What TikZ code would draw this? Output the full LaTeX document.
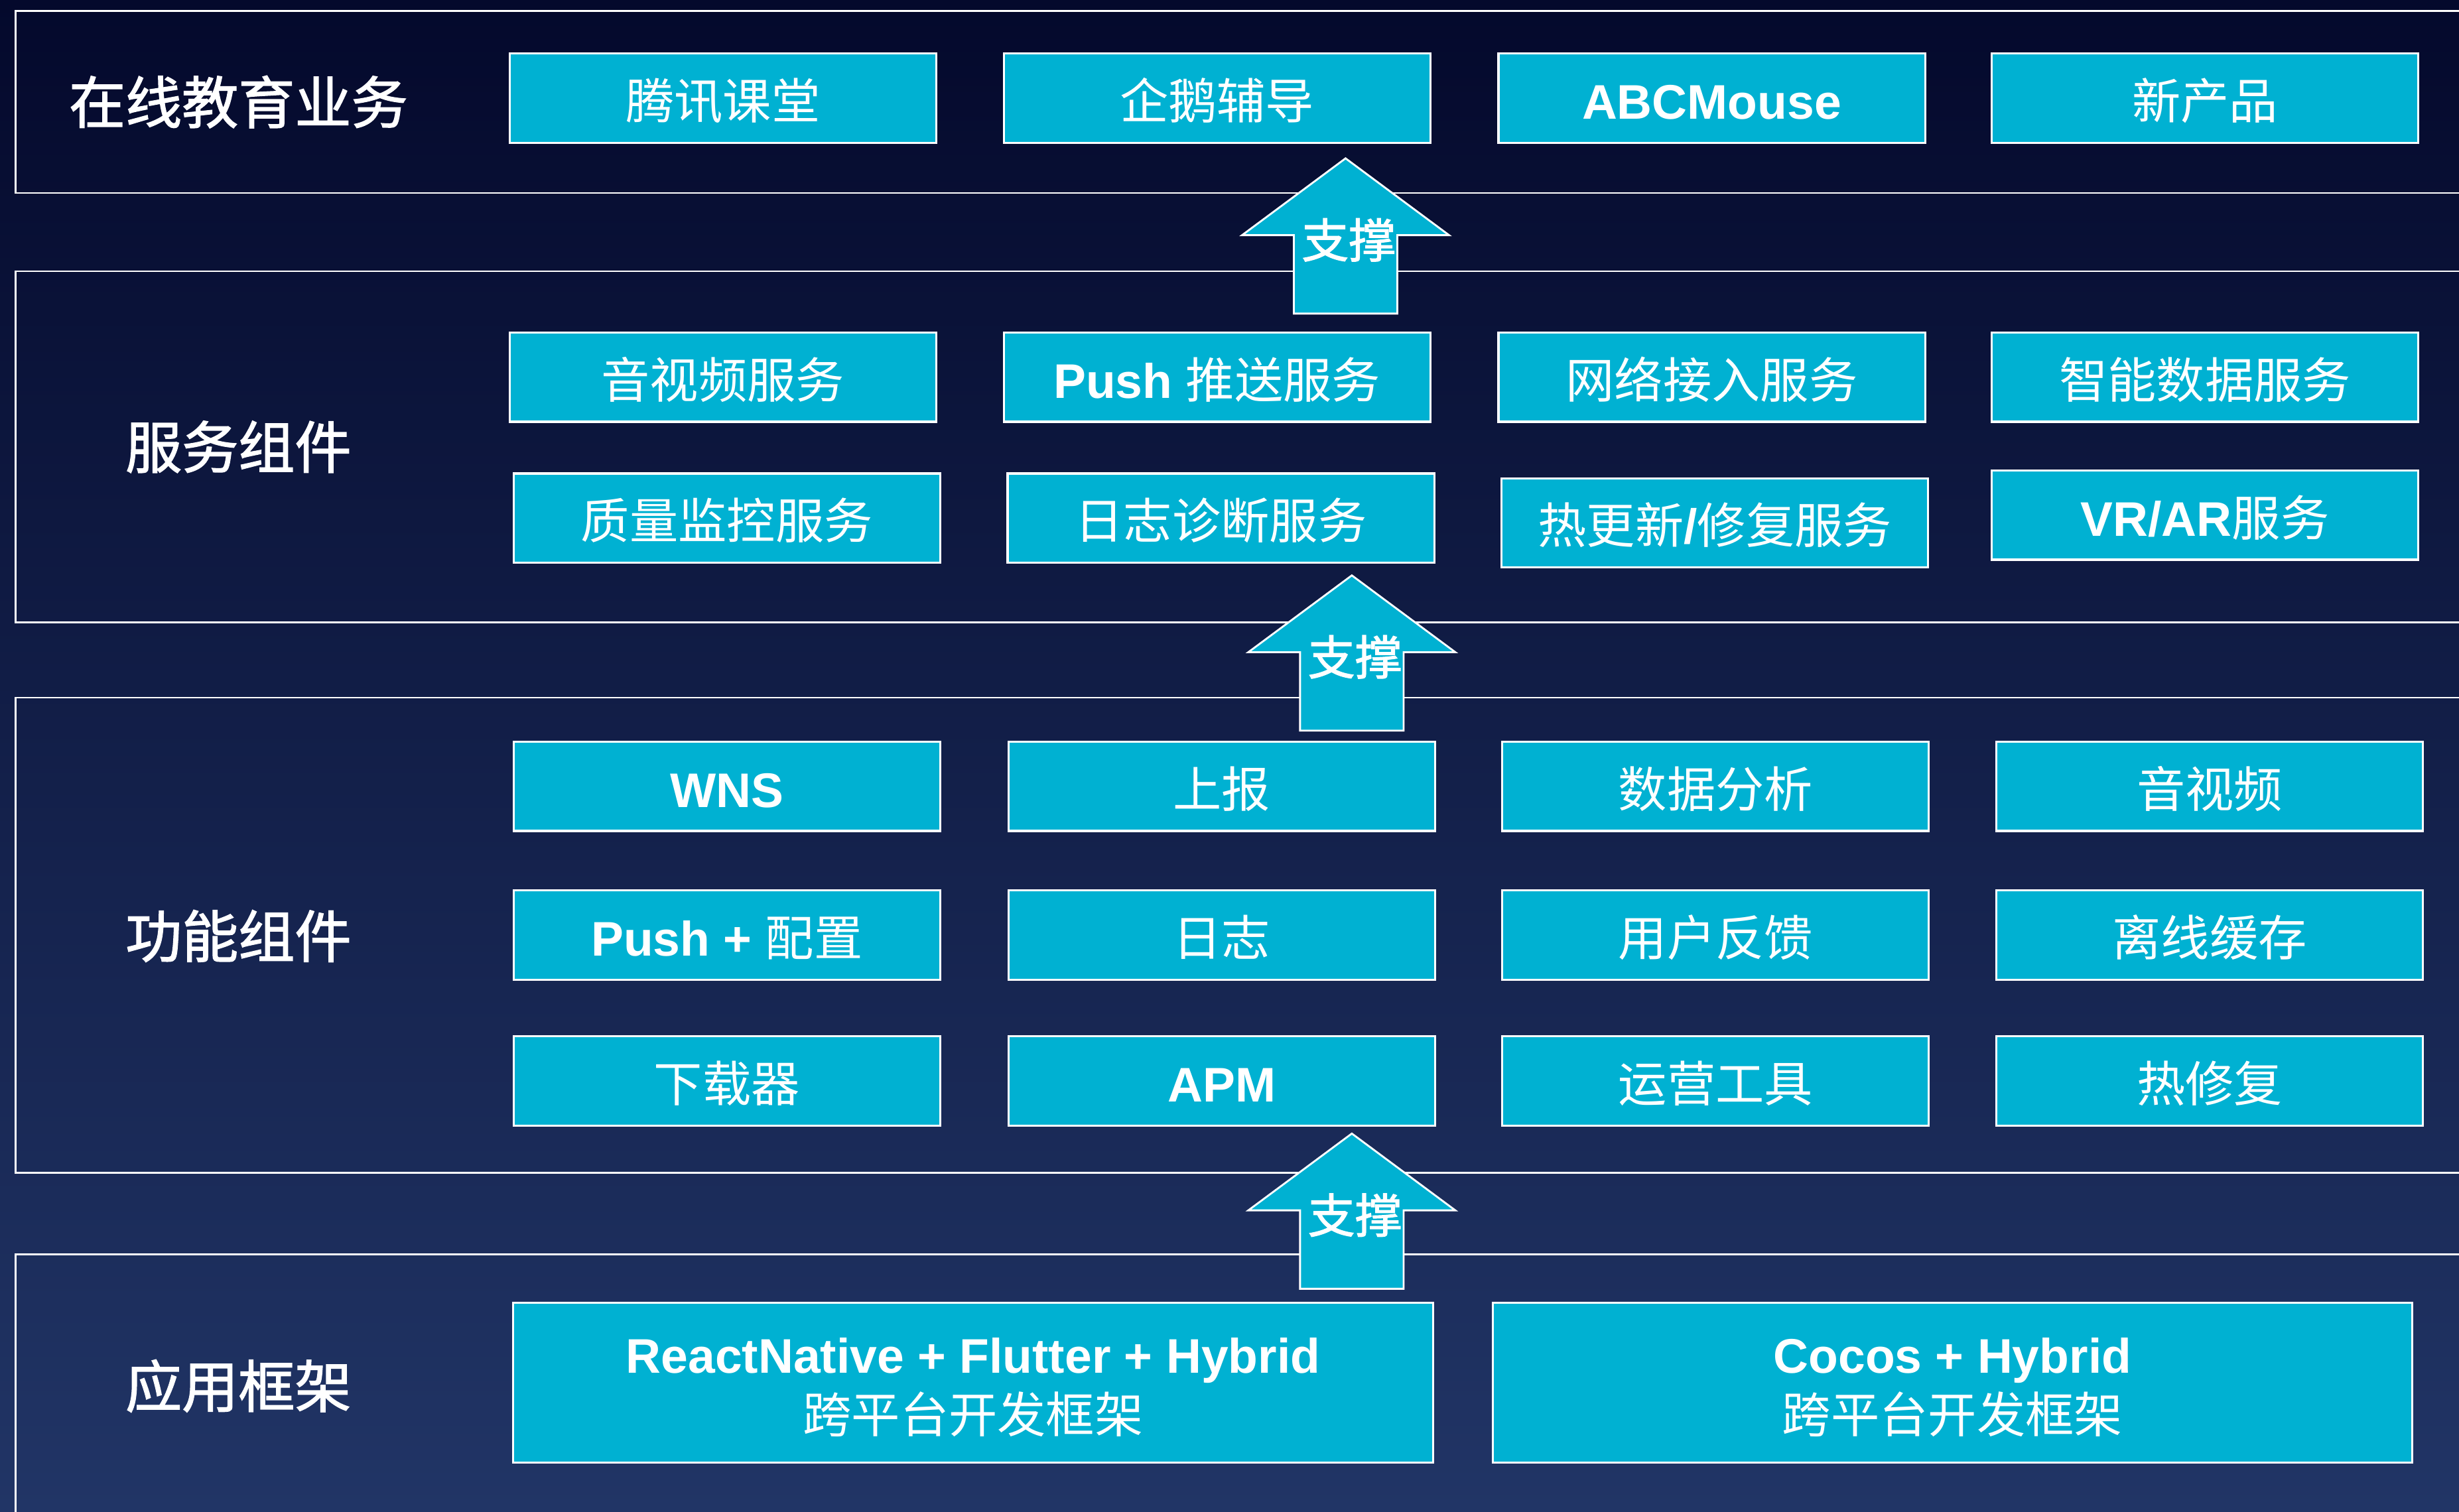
\documentclass[tikz,border=0pt]{standalone}
\usepackage{fontspec}
\setmainfont{Liberation Sans}
\newfontfamily\cjk{Noto Sans CJK SC}
\newfontfamily\cjkm{Noto Sans CJK SC}[FakeBold=1.6]
\newcommand{\la}[1]{{\bfseries #1}}
\newcommand{\zh}[1]{{\cjk #1}}
\definecolor{boxc}{RGB}{0,177,210}
\definecolor{bgtop}{RGB}{4,9,44}
\definecolor{bgbot}{RGB}{33,53,102}
\begin{document}
\begin{tikzpicture}[x=1pt,y=-1pt,
 blk/.style={draw=white,line width=1.3pt,fill=boxc,text=white,inner sep=0pt,
   minimum width=272pt,minimum height=57pt,text height=28.6pt,text depth=2pt,
   font=\fontsize{31}{36}\selectfont},
 wide/.style={draw=white,line width=1.3pt,fill=boxc,inner sep=0pt,minimum height=102pt},
 wtxt/.style={text=white,inner sep=0pt,align=center,font=\fontsize{31}{38}\selectfont},
 lay/.style={draw=white,line width=1pt},
 lbl/.style={text=white,inner sep=0pt,font=\fontsize{36}{40}\selectfont\cjkm},
 arr/.style={draw=white,line width=1.2pt,fill=boxc},
 arrtxt/.style={text=white,inner sep=0pt,font=\fontsize{30}{32}\selectfont\cjkm}]
\useasboundingbox (0,0) rectangle (1568,964);
\clip (0,0) rectangle (1568,964);
\shade[top color=bgtop,bottom color=bgbot] (0,0) rectangle (1568,964);

% layer frames (open on the right)
\draw[lay] (1600,7) -- (10,7) -- (10,123) -- (1600,123);
\draw[lay] (1600,173) -- (10,173) -- (10,397) -- (1600,397);
\draw[lay] (1600,445) -- (10,445) -- (10,748) -- (1600,748);
\draw[lay] (1600,800) -- (10,800) -- (10,1000);

% layer labels
\node[lbl] (l1) at (152,65) {在线教育业务};
\node[lbl] (l2) at (152,285) {服务组件};
\node[lbl] (l3) at (152,597) {功能组件};
\node[lbl] (l4) at (152,884) {应用框架};

% row 1
\node[blk] (a1) at (461,62.5) {\zh{腾讯课堂}};
\node[blk] (a2) at (776,62.5) {\zh{企鹅辅导}};
\node[blk] (a3) at (1091.5,62.5) {\la{ABCMouse}};
\node[blk] (a4) at (1406,62.5) {\zh{新产品}};

% service components
\node[blk] (b1) at (461,240.5) {\zh{音视频服务}};
\node[blk] (b2) at (776,240.5) {\la{Push} \zh{推送服务}};
\node[blk] (b3) at (1091.5,240.5) {\zh{网络接入服务}};
\node[blk] (b4) at (1406,240.5) {\zh{智能数据服务}};
\node[blk] (c1) at (463.5,330.5) {\zh{质量监控服务}};
\node[blk] (c2) at (778.5,330.5) {\zh{日志诊断服务}};
\node[blk] (c3) at (1093.5,333.5) {\zh{热更新}\la{/}\zh{修复服务}};
\node[blk] (c4) at (1406,328.5) {\la{VR/AR}\zh{服务}};

% function components
\node[blk] (d1) at (463.5,501.5) {\la{WNS}};
\node[blk] (d2) at (779,501.5) {\zh{上报}};
\node[blk] (d3) at (1094,501.5) {\zh{数据分析}};
\node[blk] (d4) at (1409,501.5) {\zh{音视频}};
\node[blk] (e1) at (463.5,596.5) {\la{Push +} \zh{配置}};
\node[blk] (e2) at (779,596.5) {\zh{日志}};
\node[blk] (e3) at (1094,596.5) {\zh{用户反馈}};
\node[blk] (e4) at (1409,596.5) {\zh{离线缓存}};
\node[blk] (f1) at (463.5,689.5) {\zh{下载器}};
\node[blk] (f2) at (779,689.5) {\la{APM}};
\node[blk] (f3) at (1094,689.5) {\zh{运营工具}};
\node[blk] (f4) at (1409,689.5) {\zh{热修复}};

% frameworks
\node[wide,minimum width=587pt] (g1) at (620.5,882) {};
\node[wtxt] (g1t) at ([yshift=-3pt]g1.center) {\la{ReactNative + Flutter + Hybrid}\\\zh{跨平台开发框架}};
\node[wide,minimum width=586pt] (g2) at (1245,882) {};
\node[wtxt] (g2t) at ([yshift=-3pt]g2.center) {\la{Cocos + Hybrid}\\\zh{跨平台开发框架}};

% support arrows
\draw[arr] (858,101) -- (924,150) -- (891,150) -- (891,200) -- (825,200) -- (825,150) -- (792,150) -- cycle;
\node[arrtxt] (s1) at (860,153) {支撑};
\draw[arr] (862,367) -- (928,416) -- (895,416) -- (895,466) -- (829,466) -- (829,416) -- (796,416) -- cycle;
\node[arrtxt] (s2) at (864,419) {支撑};
\draw[arr] (862,723) -- (928,772) -- (895,772) -- (895,822) -- (829,822) -- (829,772) -- (796,772) -- cycle;
\node[arrtxt] (s3) at (864,775) {支撑};
\end{tikzpicture}
\end{document}
